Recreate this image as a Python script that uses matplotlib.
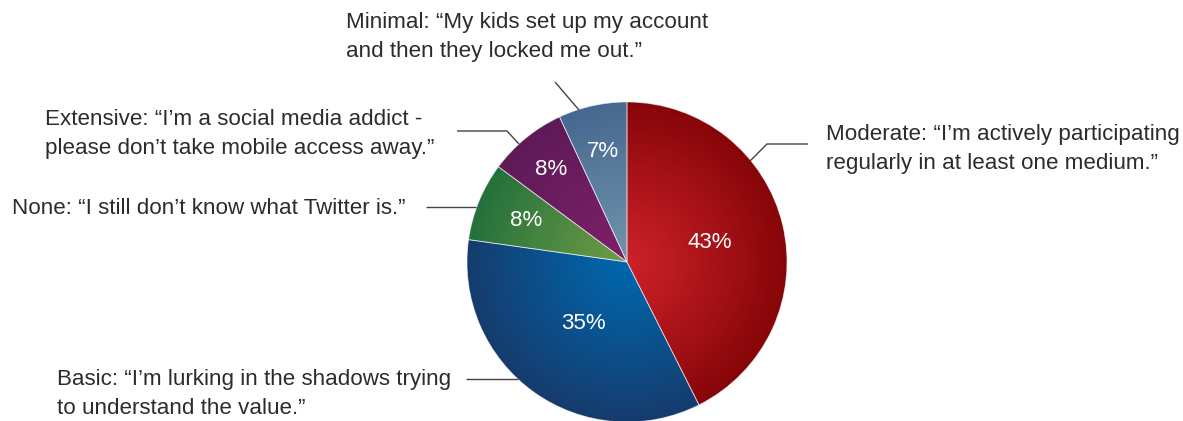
import numpy as np
import matplotlib
matplotlib.use("Agg")
import matplotlib.pyplot as plt
from matplotlib.colors import to_rgb

# Social media engagement levels (percent of respondents)
levels = ["Moderate", "Basic", "None", "Extensive", "Minimal"]
shares = [43, 35, 8, 8, 7]
quotes = [
    "Moderate: \u201cI\u2019m actively participating\nregularly in at least one medium.\u201d",
    "Basic: \u201cI\u2019m lurking in the shadows trying\nto understand the value.\u201d",
    "None: \u201cI still don\u2019t know what Twitter is.\u201d",
    "Extensive: \u201cI\u2019m a social media addict -\nplease don\u2019t take mobile access away.\u201d",
    "Minimal: \u201cMy kids set up my account\nand then they locked me out.\u201d",
]

# radial gradient colours per slice: (centre, rim)
inner_colors = ["#cc2129", "#0067ad", "#6f9b46", "#7d2068", "#7093ad"]
outer_colors = ["#860508", "#163b6d", "#23703c", "#5e1a58", "#46678f"]
# radial position of each percentage label (fraction of radius)
pct_radius = [0.53, 0.47, 0.68, 0.75, 0.71]

W, H = 1183, 421
fig = plt.figure(figsize=(W / 100, H / 100), dpi=100)
ax = fig.add_axes([0, 0, 1, 1])

cx, cy, R = 627, H - 262, 160
wedges, _ = ax.pie(shares, startangle=90, counterclock=False,
                   center=(cx, cy), radius=R,
                   wedgeprops=dict(linewidth=0.6, edgecolor=(1, 1, 1, 0.55)))
ax.set_xlim(0, W)
ax.set_ylim(0, H)
ax.set_aspect("equal")
ax.axis("off")

yy, xx = np.mgrid[0:H, 0:W] + 0.5
dist = np.clip(np.hypot(xx - cx, yy - cy) / R, 0, 1)
for w, ci, co in zip(wedges, inner_colors, outer_colors):
    a = np.array(to_rgb(ci))
    b = np.array(to_rgb(co))
    t = dist[..., None] ** 1.1
    img = a * (1 - t) + b * t
    w.set_facecolor("none")
    w.set_zorder(3)
    im = ax.imshow(img, extent=(0, W, 0, H), origin="lower",
                   interpolation="bilinear", zorder=2)
    im.set_clip_path(w)

ax.set_xlim(0, W)
ax.set_ylim(0, H)

font = ["Liberation Sans", "DejaVu Sans"]
fs = 16.1

for w, v, rf in zip(wedges, shares, pct_radius):
    mid = np.deg2rad((w.theta1 + w.theta2) / 2)
    ax.text(cx + rf * R * np.cos(mid), cy + rf * R * np.sin(mid), f"{v}%",
            ha="center", va="center", color="white", fontsize=fs,
            family=font, zorder=5)

# quote labels: left edge and vertical centre of each block
label_pos = [(826, 149), (57, 394), (12, 208), (45, 134), (346, 37)]
for (x, y), q in zip(label_pos, quotes):
    ax.text(x, H - y, q, ha="left", va="center", fontsize=fs, family=font,
            color="#2c2c2c", linespacing=1.5, zorder=5)

# leader lines from labels to the pie
leaders = [
    [(750, 161), (767, 144), (808, 144)],
    [(466, 379), (518, 379)],
    [(426, 207), (476, 207)],
    [(457, 131), (507, 131), (519, 144)],
    [(555, 82), (579, 110)],
]
for pts in leaders:
    xs = [p[0] for p in pts]
    ys = [H - p[1] for p in pts]
    ax.plot(xs, ys, color="#444444", lw=1.0, zorder=4, solid_capstyle="butt")

fig.savefig("out.png", dpi=100)
